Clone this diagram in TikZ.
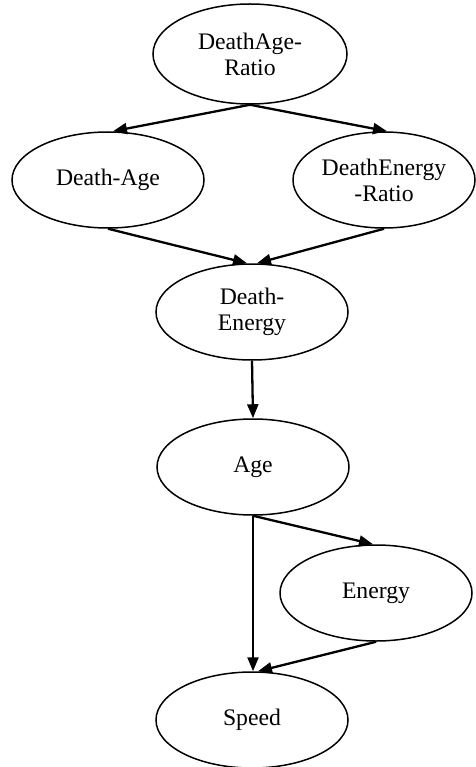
\documentclass[tikz,border=0pt]{standalone}
\usepackage{fontspec}
\setmainfont{Liberation Serif}
\usetikzlibrary{arrows.meta,shapes.geometric}
\begin{document}
\begin{tikzpicture}[x=1pt,y=-1pt,
  var/.style={draw,ellipse,line width=1.5pt,minimum width=192pt,minimum height=96pt,inner sep=0pt,
    align=center,font=\fontsize{23.7}{26}\selectfont},
  edge/.style={line width=2.3pt,-{Triangle[length=14pt,width=11pt]}}]
\useasboundingbox (0,0) rectangle (475,767);
\node[var,minimum width=194pt,minimum height=100pt] (dar) at (250,54) {DeathAge-\\Ratio};
\node[var] (da) at (108,180) {Death-Age};
\node[var,minimum width=182pt] (der) at (384,180) {DeathEnergy\\-Ratio};
\node[var] (de) at (252,312) {Death-\\Energy};
\node[var] (age) at (253,467) {Age};
\node[var] (en) at (376,593) {Energy};
\node[var] (sp) at (252,720) {Speed};
\draw[edge] (dar.south) -- ([xshift=5pt]da.north);
\draw[edge] (dar.south) -- ([xshift=3pt]der.north);
\draw[edge] (da.south) -- ([xshift=-5pt]de.north);
\draw[edge] (der.south) -- ([xshift=5pt]de.north);
\draw[edge] (de.south) -- (age.north);
\draw[edge] (age.south) -- ([xshift=-3pt]en.north);
\draw[edge] (age.south) -- ([xshift=1pt]sp.north);
\draw[edge] (en.south) -- ([xshift=6pt]sp.north);
\end{tikzpicture}
\end{document}
